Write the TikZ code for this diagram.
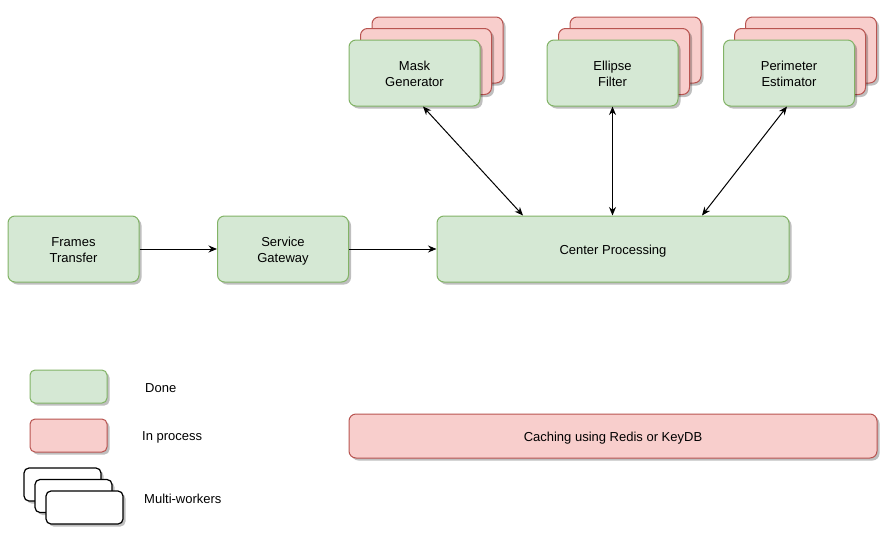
\documentclass[tikz,border=0pt]{standalone}
\usepackage{fontspec}
\setmainfont{Liberation Sans}
\usetikzlibrary{arrows.meta,shadows}
\definecolor{gfill}{HTML}{D5E8D4}
\definecolor{gdraw}{HTML}{82B366}
\definecolor{rfill}{HTML}{F8CECC}
\definecolor{rdraw}{HTML}{B85450}
\tikzset{
  box/.style={draw, rounded corners=7pt, minimum width=131pt, minimum height=66pt, align=center, inner sep=0pt, line width=1pt,
    font=\fontsize{13}{16}\selectfont,
    drop shadow={shadow xshift=2.5pt, shadow yshift=-2.5pt, opacity=0.25, fill=black}},
  gbox/.style={box, fill=gfill, draw=gdraw},
  rbox/.style={box, fill=rfill, draw=rdraw},
  twoline/.style={text height=27.4pt, text depth=0pt},
  oneline/.style={text height=11.4pt, text depth=0pt},
  wbox/.style={box, fill=white, draw=black, line width=1.2pt, minimum width=77pt, minimum height=33pt, rounded corners=5pt},
  lbl/.style={anchor=west, font=\fontsize{13}{16}\selectfont, inner sep=0pt},
  conn/.style={line width=1pt, -{Stealth[length=8.5pt,width=7pt]}},
  bconn/.style={line width=1pt, {Stealth[length=8.5pt,width=7pt]}-{Stealth[length=8.5pt,width=7pt]}},
}
\begin{document}
\begin{tikzpicture}[x=1pt,y=-1pt]
\useasboundingbox (0,0) rectangle (889,541);
% stacked workers
\node[rbox] (mgb) at (437.5,50) {};
\node[rbox] (mgm) at (426,61.5) {};
\node[gbox, twoline] (mg) at (414.5,73) {Mask\\Generator};
\node[rbox] (efb) at (635.5,50) {};
\node[rbox] (efm) at (624,61.5) {};
\node[gbox, twoline] (ef) at (612.5,73) {Ellipse\\Filter};
\node[rbox] (peb) at (811,50) {};
\node[rbox] (pem) at (800,61.5) {};
\node[gbox, twoline] (pe) at (789,73) {Perimeter\\Estimator};
% main row
\node[gbox, twoline] (ft) at (73.5,249) {Frames\\Transfer};
\node[gbox, twoline] (sg) at (283,249) {Service\\Gateway};
\node[gbox, oneline, minimum width=352pt] (cp) at (613,249) {Center Processing};
% connectors
\draw[conn] (ft.east) -- (sg.west);
\draw[conn] (sg.east) -- (cp.west);
\draw[bconn] ([xshift=8.5pt]mg.south) -- ([xshift=-90pt]cp.north);
\draw[bconn] (ef.south) -- (ef.south |- cp.north);
\draw[bconn] ([xshift=-2pt]pe.south) -- ([xshift=89pt]cp.north);
% legend
\node[gbox, minimum width=77pt, minimum height=33pt, rounded corners=5pt] (ld) at (68.5,386.5) {};
\node[lbl] (ldt) at (145,388) {Done};
\node[rbox, minimum width=77pt, minimum height=33pt, rounded corners=5pt] (lp) at (68.5,435.5) {};
\node[lbl] (lpt) at (142,437.5) {In process};
\node[wbox] (lwb) at (62.5,484.5) {};
\node[wbox] (lwm) at (73.5,496) {};
\node[wbox] (lw) at (84.5,507.5) {};
\node[lbl] (lwt) at (144,498.5) {Multi-workers};
% caching
\node[rbox, oneline, minimum width=528pt, minimum height=44pt] (cache) at (613,436) {Caching using Redis or KeyDB};
\end{tikzpicture}
\end{document}
